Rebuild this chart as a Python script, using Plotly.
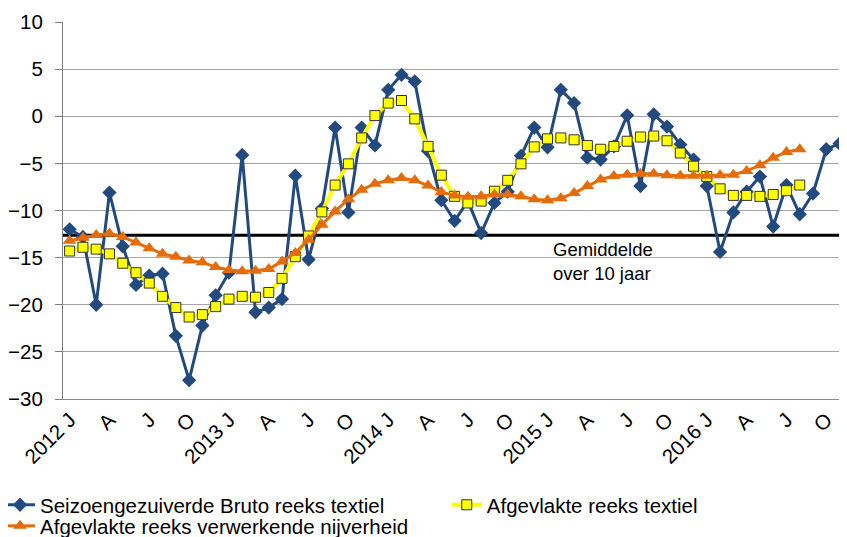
import plotly.graph_objects as go

# ── Data ─────────────────────────────────────────────────────
months = [f"{y}-{m:02d}" for y in range(2012, 2017) for m in range(1, 13)]

tick_months = months[::3]
tick_text = ["2012 J", "A", "J", "O", "2013 J", "A", "J", "O", "2014 J", "A", "J", "O",
             "2015 J", "A", "J", "O", "2016 J", "A", "J", "O"]

bruto_textiel = [
    -12.0, -12.8, -20.0, -8.1, -13.8, -17.9, -16.9, -16.7, -23.3, -28.0,
    -22.2, -19.0, -16.6, -4.1, -20.8, -20.3, -19.4, -6.3, -15.2, -9.8,
    -1.2, -10.2, -1.2, -3.1, 2.8, 4.4, 3.7, -3.7, -8.9, -11.1,
    -9.0, -12.4, -9.2, -8.0, -4.2, -1.2, -3.3, 2.8, 1.4, -4.4,
    -4.6, -3.2, 0.1, -7.4, 0.2, -1.1, -3.0, -4.6, -7.4, -14.4,
    -10.2, -8.0, -6.4, -11.7, -7.3, -10.4, -8.2, -3.5, -2.9, 0.8,
]

afgevlakt_textiel = [
    -14.3, -13.9, -14.1, -14.6, -15.6, -16.6, -17.7, -19.1, -20.3, -21.3,
    -21.05, -20.2, -19.4, -19.1, -19.2, -18.7, -17.2, -14.9, -12.7, -10.15,
    -7.3, -5.05, -2.3, 0.07, 1.4, 1.67, -0.28, -3.2, -6.25, -8.5,
    -9.2, -9.0, -7.95, -6.8, -5.05, -3.25, -2.4, -2.3, -2.5, -3.1,
    -3.5, -3.2, -2.65, -2.2, -2.1, -2.6, -3.9, -5.3, -6.4, -7.7,
    -8.4, -8.4, -8.5, -8.3, -7.9, -7.3,
]

afgevlakt_nijverheid = [
    -13.2, -12.9, -12.6, -12.45, -12.8, -13.4, -14.0, -14.6, -14.9, -15.3,
    -15.5, -16.0, -16.3, -16.45, -16.4, -16.2, -15.4, -14.5, -13.1, -11.5,
    -10.1, -8.8, -7.8, -7.15, -6.8, -6.55, -6.8, -7.35, -8.05, -8.4,
    -8.55, -8.5, -8.3, -8.3, -8.5, -8.8, -8.9, -8.7, -8.15, -7.4,
    -6.7, -6.35, -6.2, -6.1, -6.1, -6.25, -6.3, -6.3, -6.3, -6.25,
    -6.2, -5.8, -5.2, -4.4, -3.8, -3.5,
]

gemiddelde_10j = -12.63

FONT = "Liberation Sans, Arial"
FS = 20.5
BLUE = "#234a7e"
YELLOW = "#ffff00"
ORANGE = "#e46c0a"

fig = go.Figure()

fig.add_trace(go.Scatter(
    x=months, y=bruto_textiel, mode="lines+markers",
    name="Seizoengezuiverde Bruto reeks textiel",
    line=dict(color=BLUE, width=3),
    marker=dict(symbol="diamond", size=11, color=BLUE),
    legend="legend",
))
fig.add_trace(go.Scatter(
    x=months[:len(afgevlakt_textiel)], y=afgevlakt_textiel, mode="lines+markers",
    name="Afgevlakte reeks textiel",
    line=dict(color=YELLOW, width=4),
    marker=dict(symbol="square", size=10, color=YELLOW,
                line=dict(color="#333333", width=1)),
    legend="legend2",
))
fig.add_trace(go.Scatter(
    x=months[:len(afgevlakt_nijverheid)], y=afgevlakt_nijverheid, mode="lines+markers",
    name="Afgevlakte reeks verwerkende nijverheid",
    line=dict(color=ORANGE, width=3),
    marker=dict(symbol="triangle-up", size=12, color=ORANGE),
    legend="legend3",
))

# 10-year average line
fig.add_shape(type="line", xref="paper", x0=0, x1=1, yref="y",
              y0=gemiddelde_10j, y1=gemiddelde_10j,
              line=dict(color="black", width=3), layer="between")
fig.add_annotation(text="Gemiddelde<br>over 10 jaar", xref="paper", yref="paper",
                   x=0.622, y=0.365, xanchor="left", yanchor="middle", align="left",
                   showarrow=False, font=dict(family=FONT, size=18.5, color="black"))

legend_common = dict(orientation="v", xanchor="left", yanchor="middle",
                     bgcolor="rgba(0,0,0,0)", font=dict(family=FONT, size=FS, color="black"),
                     itemwidth=30)

# page body adds an 8px offset, so the figure is 8px smaller than the window
fig.update_layout(
    width=839, height=529,
    margin=dict(l=55, r=0, t=14, b=138, autoexpand=False),
    paper_bgcolor="white", plot_bgcolor="white",
    font=dict(family=FONT, size=FS, color="black"),
    showlegend=True,
    legend=dict(x=-0.0803, y=-0.281, **legend_common),
    legend2=dict(x=0.4895, y=-0.281, **legend_common),
    legend3=dict(x=-0.0803, y=-0.337, **legend_common),
)

fig.update_xaxes(
    type="category", range=[-0.5, 58.56], automargin=False,
    tickmode="array", tickvals=tick_months, ticktext=tick_text, tickangle=-45,
    showgrid=False, showline=True, linecolor="#8c8c8c", linewidth=1,
    ticks="", zeroline=False,
)
fig.update_yaxes(
    range=[-30, 10], dtick=5, tick0=0, automargin=False,
    showgrid=True, gridcolor="#a6a6a6", gridwidth=1,
    showline=True, linecolor="#7f7f7f", linewidth=1,
    ticks="outside", ticklen=7, tickcolor="#7f7f7f",
    zeroline=False, ticklabelstandoff=8,
)

fig.write_html("out.html")
